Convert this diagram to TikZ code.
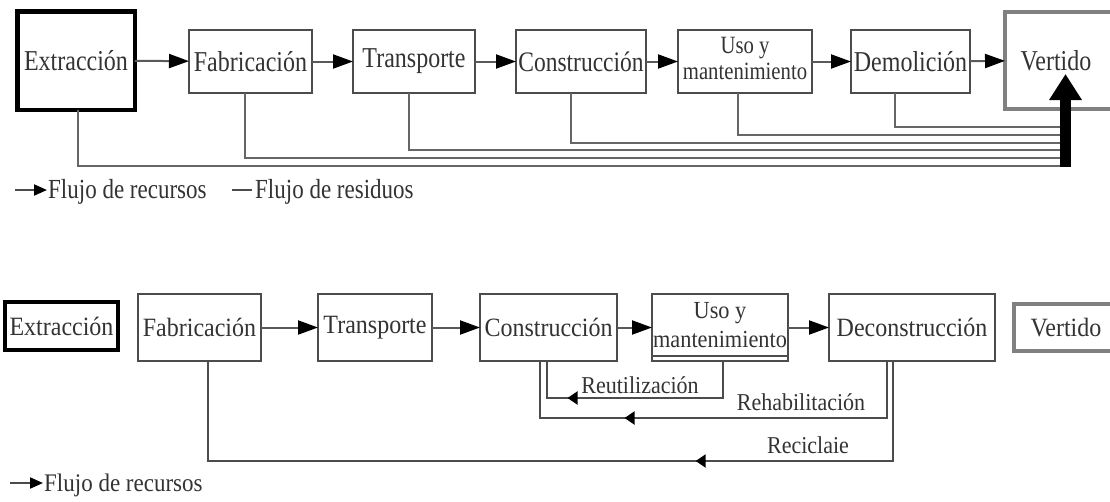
\documentclass[tikz,border=0pt]{standalone}
\usepackage{fontspec}
\usepackage{graphicx}
\setmainfont{Liberation Serif}
\usetikzlibrary{arrows.meta,decorations.markings}
\newcommand{\tallA}[1]{\scalebox{1}[1.2]{#1}}
\newcommand{\tallB}[1]{\scalebox{1}[1.1]{#1}}
\begin{document}
\begin{tikzpicture}[x=1pt,y=-1pt,
  box/.style={draw=black!70, line width=2pt, fill=white, inner sep=0pt, outer sep=0pt,
    text=black!80, font=\fontsize{24}{27}\selectfont, align=center},
  heavybox/.style={box, draw=black, line width=4.5pt},
  endbox/.style={box, draw=black!50, line width=4pt},
  flow/.style={draw=black!65, line width=2pt, -{Triangle[length=20pt,width=14pt,color=black]}},
  waste/.style={draw=black!60, line width=2pt},
  fb/.style={draw=black!70, line width=2pt},
  lbl/.style={text=black!80, inner sep=0pt, font=\fontsize{22}{25}\selectfont},
  legend/.style={text=black!80, inner sep=0pt, anchor=west, font=\fontsize{23}{26}\selectfont},
  midtip/.style={postaction={decorate}, decoration={markings,
    mark=at position #1 with {\arrow{Triangle[length=10pt,width=13pt,color=black]}}}}
]
\useasboundingbox (0,0) rectangle (1110,501);
\clip (0,0) rectangle (1110,501);
\fill[white] (0,0) rectangle (1110,501);

% ---------- top diagram ----------
\node[heavybox, minimum width=117.5pt, minimum height=98.5pt] (extr) at (76,60.5) {\tallA{Extracción}};
\node[box, minimum width=123pt, minimum height=63pt] (fab) at (250.5,61.5) {\tallA{Fabricación}};
\node[box, minimum width=122pt, minimum height=63pt] (trans) at (414,61.5) {\tallA{Transporte}};
\node[box, minimum width=130pt, minimum height=63pt, font=\fontsize{23.5}{27}\selectfont] (constr) at (581,61.5) {\tallA{Construcción}};
\node[box, minimum width=134pt, minimum height=63pt, font=\fontsize{20.7}{22}\selectfont] (uso) at (745,61.5) {\tallA{\begin{tabular}{@{}c@{}}Uso y\\mantenimiento\end{tabular}}};
\node[box, minimum width=119pt, minimum height=63pt] (demol) at (910.5,61.5) {\tallA{Demolición}};
\node[endbox, minimum width=110pt, minimum height=97pt] (vert) at (1060,60.5) {\hspace*{-8pt}\tallA{Vertido}};

\draw[flow] (extr) -- (fab);
\draw[flow] (fab) -- (trans);
\draw[flow] (trans) -- (constr);
\draw[flow] (constr) -- (uso);
\draw[flow] (uso) -- (demol);
\draw[flow] (demol) -- (vert);

\coordinate (w1) at (1060,166);
\coordinate (w2) at (1060,158);
\coordinate (w3) at (1060,150);
\coordinate (w4) at (1060,143);
\coordinate (w5) at (1060,135);
\coordinate (w6) at (1060,127);
\draw[waste] ([xshift=2pt]extr.south) |- (w1);
\draw[waste] ([xshift=-5.5pt]fab.south) |- (w2);
\draw[waste] ([xshift=-5pt]trans.south) |- (w3);
\draw[waste] ([xshift=-10pt]constr.south) |- (w4);
\draw[waste] ([xshift=-7pt]uso.south) |- (w5);
\draw[waste] ([xshift=-15.5pt]demol.south) |- (w6);

\coordinate (vbase) at (1065.5,167);
\coordinate (vin) at (1065.5,74);
\draw[black, line width=11pt, -{Triangle[length=26pt,width=31pt]}] (vbase) -- (vin);

% top legend
\coordinate (la1) at (15,190);
\coordinate (la2) at (47,190);
\draw[draw=black!70, line width=2pt, -{Triangle[length=13pt,width=11pt,color=black]}] (la1) -- (la2);
\node[legend] (lt1) at (48,192) {\tallA{Flujo de recursos}};
\coordinate (ld1) at (232,190);
\coordinate (ld2) at (252,190);
\draw[draw=black!70, line width=2pt] (ld1) -- (ld2);
\node[legend] (lt2) at (255,192) {\tallA{Flujo de residuos}};

% ---------- bottom diagram ----------
\node[heavybox, line width=4pt, minimum width=113pt, minimum height=48pt] (extr2) at (61.5,326) {\tallB{Extracción}};
\node[box, minimum width=123pt, minimum height=67pt] (fab2) at (199.5,327.5) {\tallB{Fabricación}};
\node[box, minimum width=114pt, minimum height=67pt] (trans2) at (375,327.5) {\tallB{Transporte}};
\node[box, minimum width=137pt, minimum height=67pt] (constr2) at (548.5,327.5) {\tallB{Construcción}};
\node[box, minimum width=136pt, minimum height=67pt, font=\fontsize{22.3}{26}\selectfont] (uso2) at (720,327.5) {\tallB{\begin{tabular}{@{}c@{}}Uso y\\mantenimiento\end{tabular}}};
\node[box, minimum width=166pt, minimum height=67pt] (decon) at (912,327.5) {\tallB{Deconstrucción}};
\node[endbox, minimum width=104pt, minimum height=47pt] (vert2) at (1066,327.5) {\tallB{Vertido}};

\draw[fb] ([yshift=5pt]uso2.south west) -- ([yshift=5pt]uso2.south east);

\draw[flow] (fab2) -- (trans2);
\draw[flow] (trans2) -- (constr2);
\draw[flow] (constr2) -- (uso2);
\draw[flow] (uso2) -- (decon);

\coordinate (ru) at (547,398);
\coordinate (rh) at (540,418);
\coordinate (rc) at (208,461);
\draw[fb, midtip=0.77] ([xshift=3pt]uso2.south) |- (ru) -- ([xshift=-1.5pt]constr2.south);
\draw[fb, midtip=0.693] ([xshift=-25pt]decon.south) |- (rh) -- ([xshift=-8.5pt]constr2.south);
\draw[fb, midtip=0.336] ([xshift=-19pt]decon.south) |- (rc) -- ([xshift=8.5pt]fab2.south);

\node[lbl] (lru) at (640,385) {\tallB{Reutilización}};
\node[lbl] (lrh) at (801,402) {\tallB{Rehabilitación}};
\node[lbl] (lrc) at (808,445) {\tallB{Reciclaie}};

% bottom legend
\coordinate (lb1) at (10,483);
\coordinate (lb2) at (43,483);
\draw[draw=black!70, line width=2pt, -{Triangle[length=13pt,width=11pt,color=black]}] (lb1) -- (lb2);
\node[legend] (lb) at (44,485) {\tallB{Flujo de recursos}};
\end{tikzpicture}
\end{document}
